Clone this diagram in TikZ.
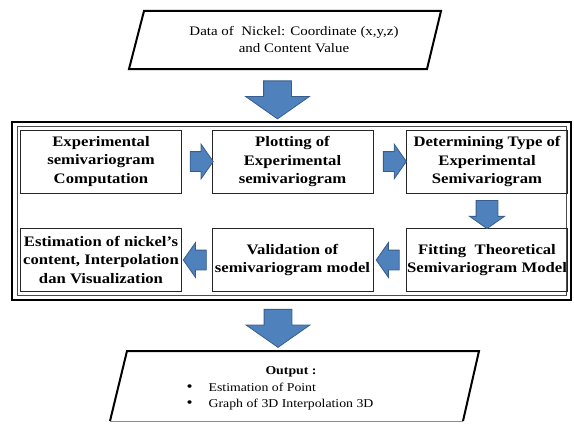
\documentclass[tikz,border=0pt]{standalone}
\usepackage{fontspec}
\setmainfont{Liberation Serif}[FakeStretch=1.15]
\usetikzlibrary{shapes.arrows, positioning, calc}
\definecolor{arrowfill}{HTML}{4F81BD}
\definecolor{arrowedge}{HTML}{385D8A}
\newcommand{\dotmark}{{\fontsize{15bp}{15bp}\selectfont •}}
\begin{document}
\begin{tikzpicture}[x=1bp, y=1bp,
    stage/.style={draw=black!85, line width=0.8bp, minimum width=161bp,
                  minimum height=63bp, inner sep=1bp, align=center,
                  font=\fontsize{14.5bp}{18.5bp}\selectfont\bfseries},
    flow/.style={single arrow, draw=arrowedge, fill=arrowfill,
                 line width=0.8bp, single arrow tip angle=110},
    bigflow/.style={flow, minimum height=38bp, inner xsep=13.5bp, inner ysep=0pt,
                    single arrow head extend=18bp, shape border rotate=270},
    sideflow/.style={flow, minimum height=23bp, inner xsep=0pt, inner ysep=9.5bp,
                     single arrow head extend=7.5bp}, 
    slanted/.style={draw=black, line width=2bp, line join=miter}]
	\useasboundingbox (0,0) rectangle (574,426);
	\draw[slanted] (129,357) -- (144,415) -- (441,415) -- (427,357) -- cycle;
	\node[font=\fontsize{13bp}{17bp}\selectfont, align=center] (data) at (294,386)
		{Data of\ \ Nickel: Coordinate (x,y,z)\\and Content Value};
	\node[bigflow] (down1) at (277.5,331) {};
	\draw[line width=2.4bp] (12,126) rectangle (571,304);
	\draw[line width=0.7bp, black!70] (17,130.5) rectangle (566.5,299.5);
	\node[stage] (c1) at (101,264.5) {Experimental\\semivariogram\\Computation};
	\node[stage] (c2) at (292.5,264.5) {Plotting of\\Experimental\\semivariogram};
	\node[stage] (c3) at (487,264.5) {Determining Type of\\Experimental\\Semivariogram};
	\node[stage] (c6) at (487,166) {Fitting\ \ Theoretical\\Semivariogram Model};
	\node[stage] (c5) at (292.5,166) {Validation of\\semivariogram model};
	\node[stage] (c4) at (101,166) {Estimation of nickel’s\\content, Interpolation\\dan Visualization};
	\node[sideflow] (r1) at ($(c1.east)!0.55!(c2.west)$) {};
	\node[sideflow] (r2) at ($(c2.east)!0.55!(c3.west)$) {};
	\node[flow, minimum height=28bp, inner xsep=10.5bp, inner ysep=0pt,
		single arrow head extend=6.5bp, shape border rotate=270]
		(d2) at ($(c3.south)!0.5!(c6.north)$) {};
	\node[sideflow, shape border rotate=180] (l1) at ($(c6.west)!0.45!(c5.east)$) {};
	\node[sideflow, shape border rotate=180] (l2) at ($(c5.west)!0.45!(c4.east)$) {};
	\node[bigflow] (down2) at (278,102.5) {};
	\draw[slanted] (110,5) -- (127,75) -- (479,75) -- (463,5);
	\draw[line width=1bp, black!45] (110,5) -- (463,5);
	\node[font=\fontsize{12bp}{16.5bp}\selectfont] (out) at (280,38)
		{\begin{tabular}{@{}l@{\hspace{16bp}}l@{}}
		\multicolumn{2}{c}{\hspace{22bp}\textbf{Output :}}\\
		\dotmark&Estimation of Point\\
		\dotmark&Graph of 3D Interpolation 3D
		\end{tabular}};
\end{tikzpicture}
\end{document}
